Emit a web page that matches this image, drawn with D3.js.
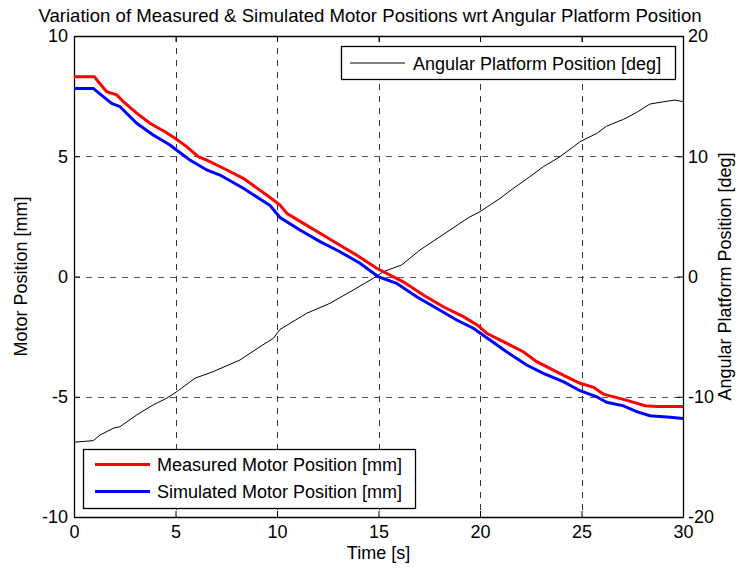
<!DOCTYPE html>
<html>
<head>
<meta charset="utf-8">
<script src="https://cdn.jsdelivr.net/npm/d3@7"></script>
<style>
  html, body { margin: 0; padding: 0; background: #fff; }
  svg { display: block; font-family: "Liberation Sans", Arial, Helvetica, sans-serif; }
</style>
</head>
<body>
<svg id="chart" width="739" height="574"></svg>
<script>
// --- data ---
const measuredT = [0, 1.0, 1.2, 1.61, 2.1, 2.43, 3.09, 3.74, 4.48, 4.98, 5.55, 6.12, 6.54, 7.36, 8.34, 9.49, 10.15, 10.48, 11.3, 12.12, 12.94, 13.92, 14.91, 15.57, 16.22, 17.21, 18.19, 19.18, 19.92, 20.33, 21.15, 22.13, 22.79, 24.1, 24.93, 25.59, 26.08, 27.07, 28.13, 28.7, 30];
const measuredV = [8.31, 8.31, 8.1, 7.68, 7.55, 7.27, 6.79, 6.37, 6.02, 5.75, 5.40, 4.98, 4.84, 4.50, 4.08, 3.39, 2.97, 2.63, 2.21, 1.80, 1.38, 0.89, 0.34, 0.06, -0.22, -0.77, -1.26, -1.67, -2.05, -2.36, -2.71, -3.13, -3.54, -4.10, -4.44, -4.61, -4.89, -5.11, -5.37, -5.41, -5.41];

const simulatedT = [0, 0.95, 1.44, 1.86, 2.27, 3.09, 3.9, 4.73, 5.05, 5.71, 6.54, 7.19, 8.34, 9.66, 10.15, 11.13, 12.12, 13.1, 14.09, 14.99, 15.89, 16.88, 17.86, 18.85, 19.67, 20.49, 21.31, 22.3, 23.12, 24.1, 24.93, 25.75, 26.24, 27.07, 27.72, 28.37, 29.36, 30];
const simulatedV = [7.82, 7.82, 7.48, 7.20, 7.06, 6.37, 5.88, 5.47, 5.26, 4.84, 4.43, 4.22, 3.67, 2.95, 2.45, 1.93, 1.45, 1.03, 0.55, -0.01, -0.28, -0.84, -1.32, -1.81, -2.15, -2.64, -3.13, -3.68, -4.03, -4.37, -4.75, -5.0, -5.23, -5.38, -5.62, -5.79, -5.85, -5.9];

const angleT = [0, 0.95, 1.28, 1.94, 2.27, 3.09, 3.9, 4.56, 5.06, 5.96, 6.86, 8.18, 9.16, 9.82, 10.15, 11.46, 12.61, 13.76, 14.74, 15.24, 16.14, 17.04, 18.03, 19.01, 19.51, 20, 20.49, 20.99, 21.64, 22.46, 23.12, 23.94, 24.93, 25.75, 26.24, 27.07, 27.72, 28.37, 29.03, 29.6, 29.93, 30];
const angleV = [-13.78, -13.65, -13.18, -12.62, -12.49, -11.51, -10.68, -10.13, -9.58, -8.46, -7.91, -6.94, -5.84, -5.14, -4.4, -3.06, -2.23, -1.12, -0.15, 0.40, 0.96, 2.20, 3.31, 4.42, 4.97, 5.39, 5.94, 6.50, 7.33, 8.30, 9.13, 9.96, 11.21, 11.90, 12.51, 13.07, 13.65, 14.34, 14.53, 14.67, 14.56, 14.56];

const xTicks = [0, 5, 10, 15, 20, 25, 30];
const yLeftTicks = [-10, -5, 0, 5, 10];
const yRightTicks = [-20, -10, 0, 10, 20];

const titleText = "Variation of Measured & Simulated Motor Positions wrt Angular Platform Position";
const xLabel = "Time [s]";
const yLeftLabel = "Motor Position [mm]";
const yRightLabel = "Angular Platform Position [deg]";
const legendTop = ["Angular Platform Position [deg]"];
const legendBottom = ["Measured Motor Position [mm]", "Simulated Motor Position [mm]"];

// --- layout ---
const svg = d3.select("#chart");
const L = 74, T = 36, R = 683, B = 517;
const FS = 18;

const x = d3.scaleLinear().domain([0, 30]).range([L, R]);
const yL = d3.scaleLinear().domain([-10, 10]).range([B, T]);
const yR = d3.scaleLinear().domain([-20, 20]).range([B, T]);

const zip = (ts, vs) => ts.map((t, i) => [t, vs[i]]);
const plain = d => String(d); // hyphen minus like MATLAB

// grid
const grid = svg.append("g");
xTicks.slice(1, -1).forEach(t => {
  grid.append("line")
    .attr("x1", Math.round(x(t)) + 0.5).attr("x2", Math.round(x(t)) + 0.5)
    .attr("y1", T).attr("y2", B)
    .attr("stroke", "#333").attr("stroke-width", 1).attr("stroke-dasharray", "6,6");
});
yLeftTicks.slice(1, -1).forEach(v => {
  grid.append("line")
    .attr("x1", L).attr("x2", R)
    .attr("y1", Math.round(yL(v)) + 0.5).attr("y2", Math.round(yL(v)) + 0.5)
    .attr("stroke", "#555").attr("stroke-width", 1).attr("stroke-dasharray", "6,6");
});

// axes (MATLAB style: inward ticks, box)
const tickLen = 6;
const xAxisB = d3.axisBottom(x).tickValues(xTicks).tickFormat(plain).tickSizeInner(-tickLen).tickSizeOuter(0).tickPadding(8);
const xAxisT = d3.axisTop(x).tickValues(xTicks).tickSizeInner(-tickLen).tickSizeOuter(0).tickFormat("");
const yAxisL = d3.axisLeft(yL).tickValues(yLeftTicks).tickFormat(plain).tickSizeInner(-tickLen).tickSizeOuter(0).tickPadding(6);
const yAxisR = d3.axisRight(yR).tickValues(yRightTicks).tickFormat(plain).tickSizeInner(-tickLen).tickSizeOuter(0).tickPadding(5);

const styleAxis = g => {
  g.attr("font-size", FS).attr("font-family", "Liberation Sans, Arial, sans-serif");
  g.selectAll("text").attr("fill", "#000");
  g.selectAll("line").attr("stroke", "#000");
  g.select(".domain").attr("stroke", "#000").attr("stroke-width", 1.3);
};

svg.append("g").attr("transform", `translate(0,${B})`).call(xAxisB).call(styleAxis);
svg.append("g").attr("transform", `translate(0,${T})`).call(xAxisT).call(styleAxis);
svg.append("g").attr("transform", `translate(${L},0)`).call(yAxisL).call(styleAxis);
svg.append("g").attr("transform", `translate(${R},0)`).call(yAxisR).call(styleAxis);

// series
const lineL = d3.line().x(d => x(d[0])).y(d => yL(d[1]));
const lineR = d3.line().x(d => x(d[0])).y(d => yR(d[1]));

svg.append("path").datum(zip(angleT, angleV))
  .attr("d", lineR).attr("fill", "none").attr("stroke", "#000").attr("stroke-width", 1);
svg.append("path").datum(zip(measuredT, measuredV))
  .attr("d", lineL).attr("fill", "none").attr("stroke", "#ff0000").attr("stroke-width", 3);
svg.append("path").datum(zip(simulatedT, simulatedV))
  .attr("d", lineL).attr("fill", "none").attr("stroke", "#0000ff").attr("stroke-width", 3);

// title & labels
svg.append("text").attr("x", 370).attr("y", 22)
  .attr("text-anchor", "middle").attr("font-size", 18.6).text(titleText);
svg.append("text").attr("x", (L + R) / 2).attr("y", 559)
  .attr("text-anchor", "middle").attr("font-size", FS).text(xLabel);
svg.append("text").attr("transform", `translate(27,${(T + B) / 2}) rotate(-90)`)
  .attr("text-anchor", "middle").attr("font-size", FS).text(yLeftLabel);
svg.append("text").attr("transform", `translate(731,${(T + B) / 2}) rotate(-90)`)
  .attr("text-anchor", "middle").attr("font-size", FS).text(yRightLabel);

// legend: top right
const lt = svg.append("g");
lt.append("rect").attr("x", 341.5).attr("y", 46.5).attr("width", 334).attr("height", 33)
  .attr("fill", "#fff").attr("stroke", "#000").attr("stroke-width", 1.3);
lt.append("line").attr("x1", 350).attr("x2", 405).attr("y1", 63).attr("y2", 63)
  .attr("stroke", "#000").attr("stroke-width", 1);
lt.append("text").attr("x", 413).attr("y", 69.5).attr("font-size", FS).text(legendTop[0]);

// legend: bottom left
const lb = svg.append("g");
lb.append("rect").attr("x", 83.5).attr("y", 449.5).attr("width", 332).attr("height", 59)
  .attr("fill", "#fff").attr("stroke", "#000").attr("stroke-width", 1.3);
const lbColors = ["#ff0000", "#0000ff"];
legendBottom.forEach((s, i) => {
  const yy = 464.5 + i * 27;
  lb.append("line").attr("x1", 95).attr("x2", 150).attr("y1", yy).attr("y2", yy)
    .attr("stroke", lbColors[i]).attr("stroke-width", 3);
  lb.append("text").attr("x", 157).attr("y", yy + 6.5).attr("font-size", FS).text(s);
});
</script>
</body>
</html>
